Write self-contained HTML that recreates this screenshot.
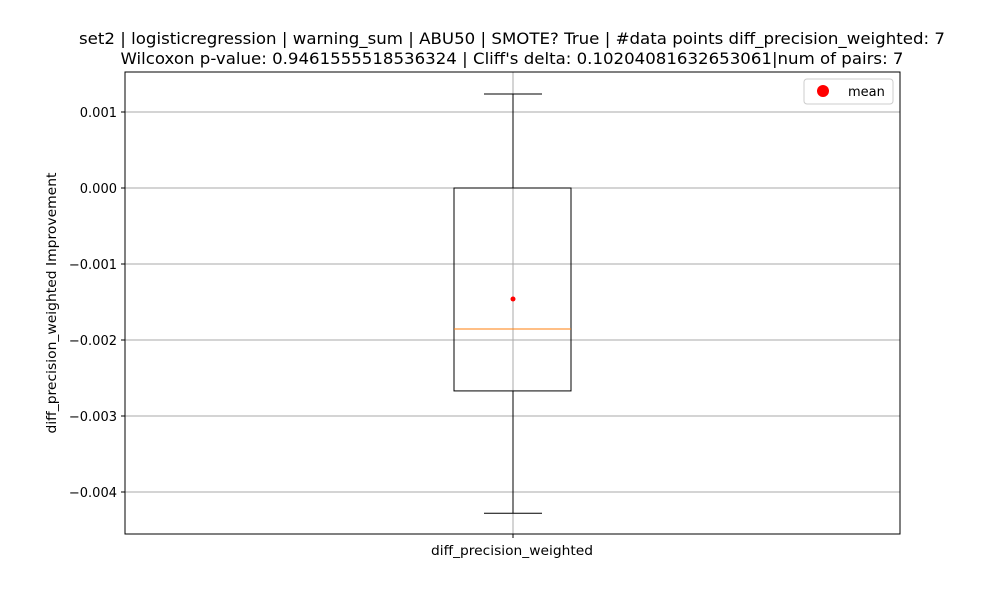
<!DOCTYPE html>
<html><head><meta charset="utf-8"><style>
body{margin:0;background:#fff;}
svg text{font-family:"DejaVu Sans","Liberation Sans",sans-serif;fill:#000;}
</style></head><body>
<svg id="chart" width="1000" height="600" xmlns="http://www.w3.org/2000/svg">
<text x="512" y="44" font-size="16" text-anchor="middle" textLength="866" lengthAdjust="spacingAndGlyphs">set2 | logisticregression | warning_sum | ABU50 | SMOTE? True | #data points diff_precision_weighted: 7</text>
<text x="512" y="64" font-size="16" text-anchor="middle" textLength="783" lengthAdjust="spacingAndGlyphs">Wilcoxon p-value: 0.9461555518536324 | Cliff's delta: 0.10204081632653061|num of pairs: 7</text>
<g id="grid"></g>
<g id="marks"></g>
<rect x="125" y="72" width="775" height="462" fill="none" stroke="#000" stroke-width="1"/>
<g id="yticks"></g>
<line x1="513" y1="534" x2="513" y2="538" stroke="#000"/>
<text x="512" y="555" font-size="13" text-anchor="middle" textLength="162" lengthAdjust="spacingAndGlyphs">diff_precision_weighted</text>
<text transform="translate(56,303) rotate(-90)" font-size="13" text-anchor="middle" textLength="261" lengthAdjust="spacingAndGlyphs">diff_precision_weighted Improvement</text>
<g>
<rect x="804" y="79" width="89" height="25" rx="3" fill="#fff" stroke="#ccc"/>
<circle cx="823" cy="91" r="6" fill="red"/>
<text x="848" y="96" font-size="13">mean</text>
</g>
</svg>
<script>
const yTicks=[0.001,0,-0.001,-0.002,-0.003,-0.004];
const yTickLabels=["0.001","0.000","\u22120.001","\u22120.002","\u22120.003","\u22120.004"];
const whiskerHigh=[0.001237];
const q3=[0.0];
const median=[-0.001855];
const q1=[-0.00267];
const whiskerLow=[-0.00428];
const meanVals=[-0.00146];
const y=v=>188-v*76000;
const cx=513;
const NS="http://www.w3.org/2000/svg";
function mk(parent,tag,attrs){const e=document.createElementNS(NS,tag);for(const k in attrs)e.setAttribute(k,attrs[k]);document.getElementById(parent).appendChild(e);return e;}
yTicks.forEach((t,i)=>{
 const g=mk('grid','line',{x1:125,x2:900,y1:y(t),y2:y(t),stroke:'#aaaaaa','stroke-width':1});
 
 
 const tk=mk('yticks','line',{x1:121,x2:125,y1:y(t),y2:y(t),stroke:'#000'});
 
 
 const tx=mk('yticks','text',{x:117,y:y(t)+5,'font-size':13,'text-anchor':'end'});
 tx.textContent=yTickLabels[i];
 
 
});
const vg=mk('grid','line',{x1:cx,x2:cx,y1:72,y2:534,stroke:'#aaaaaa','stroke-width':1});


const box=mk('marks','rect',{x:454,y:y(q3[0]),width:117,height:y(q1[0])-y(q3[0]),fill:'none',stroke:'#000'});


const w1=mk('marks','line',{x1:cx,x2:cx,y1:y(q3[0]),y2:y(whiskerHigh[0]),stroke:'#000'});


const c1=mk('marks','line',{x1:484,x2:542,y1:y(whiskerHigh[0]),y2:y(whiskerHigh[0]),stroke:'#000'});


const w2=mk('marks','line',{x1:cx,x2:cx,y1:y(q1[0]),y2:y(whiskerLow[0]),stroke:'#000'});


const c2=mk('marks','line',{x1:484,x2:542,y1:y(whiskerLow[0]),y2:y(whiskerLow[0]),stroke:'#000'});


const md=mk('marks','line',{x1:454,x2:571,y1:y(median[0]),y2:y(median[0]),stroke:'#ff7f0e'});


const mn=mk('marks','circle',{cx:cx,cy:y(meanVals[0]),r:2.5,fill:'red'});


</script>
</body></html>
